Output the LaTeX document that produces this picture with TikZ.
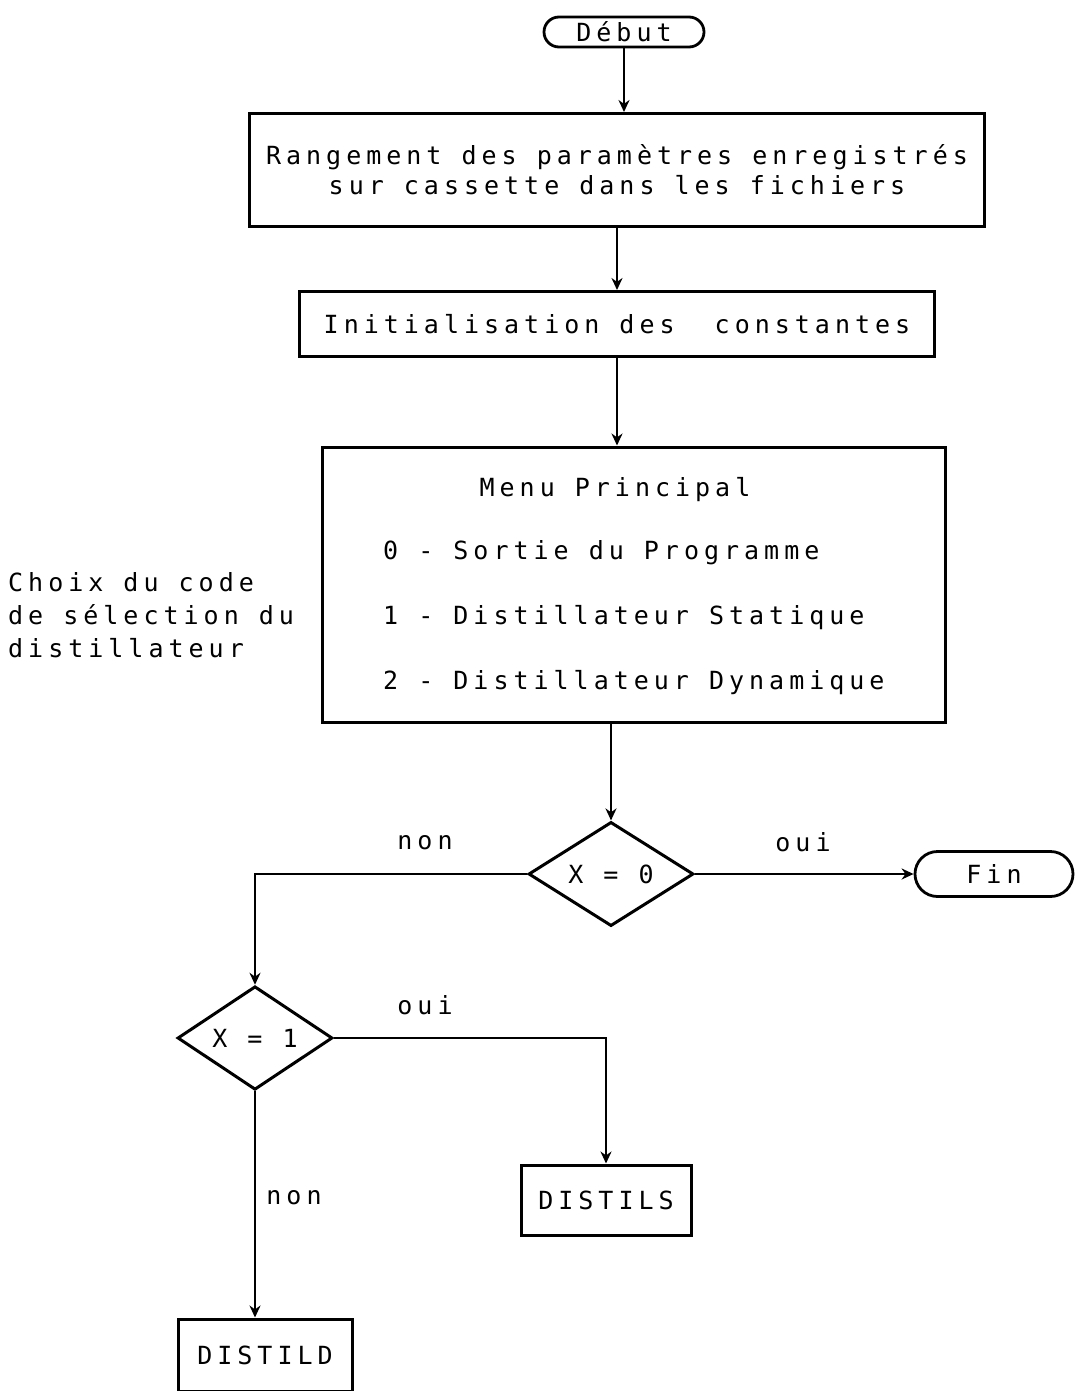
\documentclass[tikz,border=0pt]{standalone}
\usepackage{fontspec}
\setmonofont{DejaVu Sans Mono}[LetterSpace=20]
\usetikzlibrary{shapes.geometric,shapes.misc,arrows.meta}
\begin{document}
\begin{tikzpicture}[x=1pt,y=-1pt,
  every node/.style={font=\ttfamily\fontsize{25}{30}\selectfont},
  box/.style={draw,line width=3pt,inner sep=0pt},
  term/.style={draw,rounded rectangle,line width=2.8pt,inner sep=0pt},
  test/.style={draw,diamond,line width=3pt,inner sep=0pt},
  flow/.style={line width=2.8pt,-{Stealth[length=12pt,width=11pt]}},
  lbl/.style={inner sep=0pt}]
\useasboundingbox[fill=white] (0,0) rectangle (1075,1391);

% start / end terminals
\node[term,minimum width=160pt,minimum height=30pt] (debut) at (624,32) {Début};
\node[term,minimum width=158pt,minimum height=45pt] (fin) at (994,874) {Fin};

% processing steps
\node[box,minimum width=735pt,minimum height=113pt,align=center] (range) at (617,170)
  {Rangement des paramètres enregistrés\\sur cassette dans les fichiers};
\node[box,minimum width=635pt,minimum height=65pt] (init) at (617,324)
  {Initialisation des\ \ constantes};

% main menu
\node[box,minimum width=623pt,minimum height=275pt] (menu) at (633.5,584.5) {};
\node[lbl,anchor=base] (mtitle) at (615,496) {Menu Principal};
\node[lbl,anchor=base west] (m0) at (383,559) {0 - Sortie du Programme};
\node[lbl,anchor=base west] (m1) at (383,624) {1 - Distillateur Statique};
\node[lbl,anchor=base west] (m2) at (383,689) {2 - Distillateur Dynamique};
\node[lbl,anchor=north west,align=left,font=\ttfamily\fontsize{25}{33}\selectfont] (choix) at (8,572)
  {Choix du code\\de sélection du\\distillateur};

% decisions
\node[test,minimum width=165pt,minimum height=76pt] (x0) at (611,874) {X = 0};
\node[test,minimum width=155pt,minimum height=77pt] (x1) at (255,1038) {X = 1};

% called programs
\node[box,minimum width=170pt,minimum height=70pt] (distils) at (606,1200) {DISTILS};
\node[box,minimum width=174pt,minimum height=72pt] (distild) at (265,1355) {DISTILD};

% branch labels
\node[lbl] (non0) at (425,843) {non};
\node[lbl] (oui0) at (803,842) {oui};
\node[lbl] (oui1) at (425,1005) {oui};
\node[lbl] (non1) at (294,1198) {non};

% connectors
\draw[flow] (debut.south) -- (debut.south |- range.north);
\draw[flow] (range) -- (init);
\draw[flow] (init.south) -- (init.south |- menu.north);
\draw[flow] (menu.south -| x0.north) -- (x0.north);
\draw[flow] (x0.east) -- (fin.west);
\draw[flow] (x0.west) -| (x1.north);
\draw[flow] (x1.east) -| (distils.north);
\draw[flow] (x1.south) -- (x1.south |- distild.north);
\end{tikzpicture}
\end{document}
